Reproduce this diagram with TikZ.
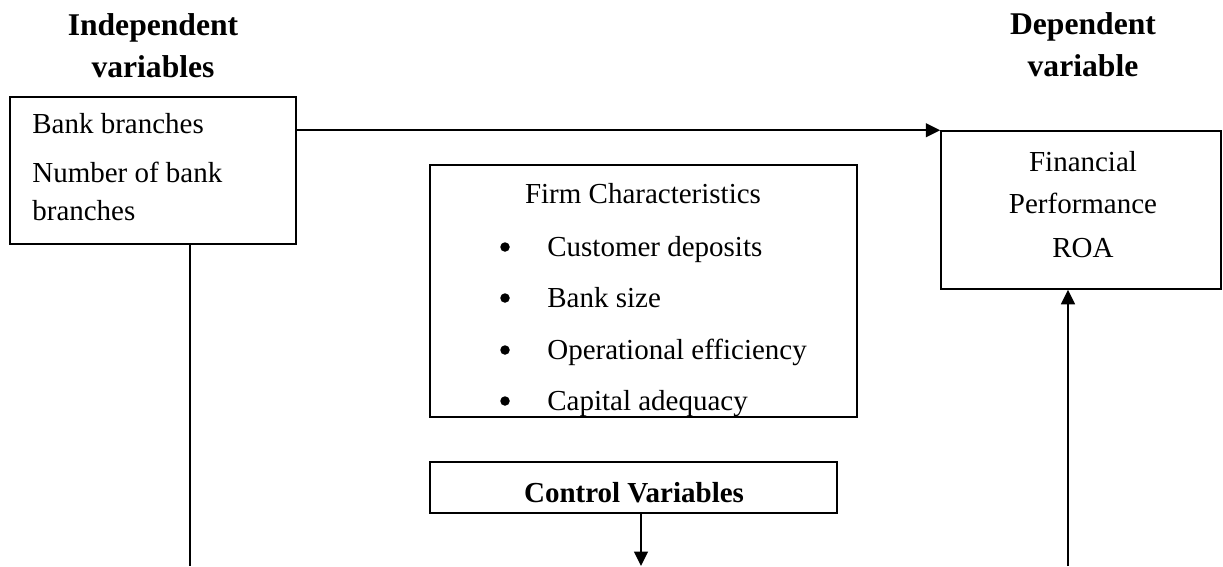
\documentclass[tikz,border=0pt]{standalone}
\usepackage{fontspec}
\setmainfont{Liberation Serif}
\usetikzlibrary{arrows.meta}

\tikzset{
  box/.style={draw, line width=0.9pt, inner sep=0pt},
  txt/.style={inner sep=0pt, font=\fontsize{16.5}{20}\selectfont},
  head/.style={inner sep=0pt, font=\fontsize{18}{22}\selectfont\bfseries},
  dot/.style={circle, fill, inner sep=0pt, minimum size=0.19cm},
  link/.style={line width=0.9pt},
  tip/.style={link, -{Triangle[length=0.29cm,width=0.28cm]}}
}

\begin{document}
\begin{tikzpicture}[x=0.02cm,y=-0.02cm]
  \useasboundingbox (0,0) rectangle (1223,566);

  % column headings
  \node[head, anchor=base] (indhead) at (153,35) {Independent};
  \node[head, anchor=base] (indhead2) at (153,77) {variables};
  \node[head, anchor=base] (dephead) at (1083,34) {Dependent};
  \node[head, anchor=base] (dephead2) at (1083,76) {variable};

  % boxes
  \node[box, minimum width=5.72cm, minimum height=2.94cm] (indep) at (153,170.5) {};
  \node[box, minimum width=5.6cm, minimum height=3.16cm] (dep) at (1081,210) {};
  \node[box, minimum width=8.54cm, minimum height=5.04cm] (firm) at (643.5,291) {};
  \node[box, minimum width=8.14cm, minimum height=1.02cm] (ctrl) at (633.5,487.5) {};

  % independent variable
  \node[txt, anchor=base west] (branch) at (32,133) {Bank branches};
  \node[txt, anchor=base west] (number) at (32,182) {Number of bank};
  \node[txt, anchor=base west] (number2) at (32,220) {branches};

  % dependent variable
  \node[txt, anchor=base] (fin) at (1083,171) {Financial};
  \node[txt, anchor=base] (perf) at (1083,213) {Performance};
  \node[txt, anchor=base] (roa) at (1083,257) {ROA};

  % firm characteristics
  \node[txt, anchor=base] (firmtitle) at (643,203) {Firm Characteristics};
  \foreach \lbl/\y [count=\i] in {Customer deposits/256, Bank size/307,
      Operational efficiency/359, Capital adequacy/410} {
    \node[dot] (dot\i) at (505,\y-9) {};
    \node[txt, anchor=base west] (item\i) at (547,\y) {\lbl};
  }

  \node[txt, anchor=base, font=\fontsize{16.5}{20}\selectfont\bfseries] (ctrltxt) at (634,502) {Control Variables};

  % connectors
  \coordinate (lfoot) at (190,566);
  \coordinate (cfoot) at (641,566);
  \coordinate (rfoot) at (1068,566);

  \draw[tip] (indep.east |- dep.north) -- (dep.north west);
  \draw[link] (indep.south -| lfoot) -- (lfoot);
  \draw[tip] (ctrl.south -| cfoot) -- (cfoot);
  \draw[tip] (rfoot) -- (rfoot |- dep.south);
\end{tikzpicture}
\end{document}
